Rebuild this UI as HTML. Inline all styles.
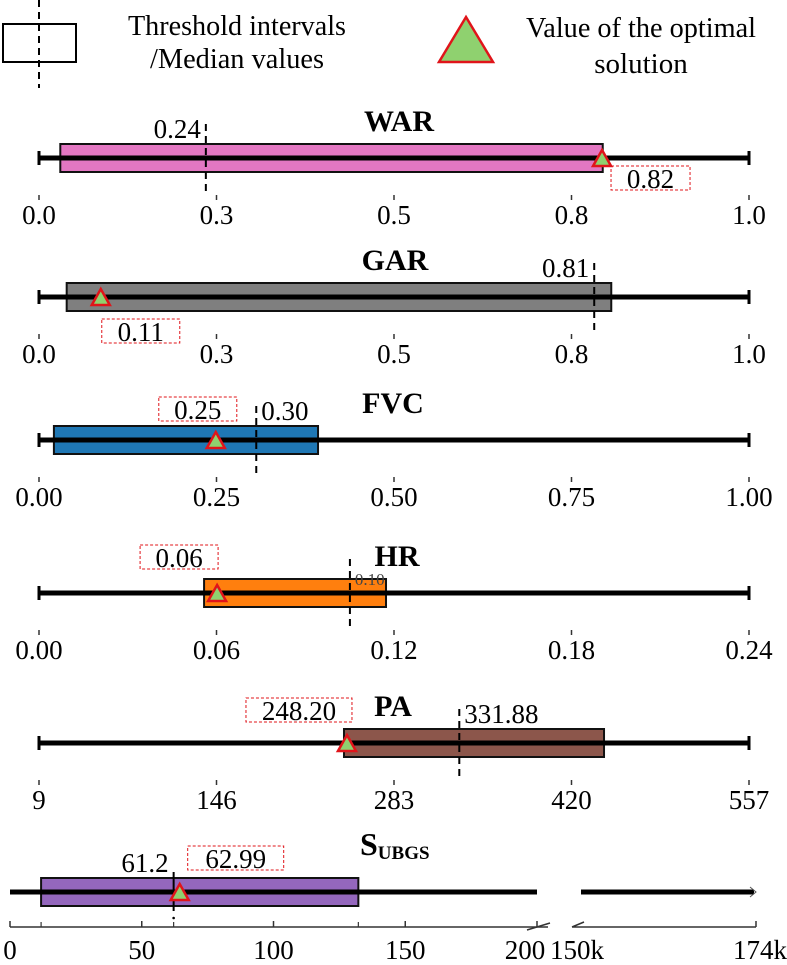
<!DOCTYPE html>
<html><head><meta charset="utf-8"><style>
html,body{margin:0;padding:0;background:#fff;}
svg{display:block;font-family:"Liberation Serif",serif;}
</style></head><body>
<svg id="chart" width="787" height="965" viewBox="0 0 787 965" xmlns="http://www.w3.org/2000/svg">
<g>
  <rect x="3" y="24" width="73" height="38" fill="none" stroke="#000" stroke-width="2"/>
  <line x1="39" y1="0" x2="39" y2="88" stroke="#000" stroke-width="2" stroke-dasharray="7,5"/>
  <text x="237" y="35" font-size="29" text-anchor="middle" textLength="218" lengthAdjust="spacingAndGlyphs">Threshold intervals</text>
  <text x="237" y="68" font-size="29" text-anchor="middle" textLength="174" lengthAdjust="spacingAndGlyphs">/Median values</text>
  <polygon points="466,17 493,62 439,62" fill="#8fd16f" stroke="#e0141a" stroke-width="2.5"/>
  <text x="641" y="37" font-size="29" text-anchor="middle" textLength="230" lengthAdjust="spacingAndGlyphs">Value of the optimal</text>
  <text x="641" y="73" font-size="29" text-anchor="middle">solution</text>
</g>
<g id="panels"></g>
</svg>
<script>
// ---- data ----
const names = ["WAR","GAR","FVC","HR","PA","SUBGS"];
const axisMin = [0,0,0,0,9,0];
const axisMax = [1,1,1,0.24,557,200];
const tickValues = [[0,0.25,0.5,0.75,1],[0,0.25,0.5,0.75,1],[0,0.25,0.5,0.75,1],[0,0.06,0.12,0.18,0.24],[9,146,283,420,557],[0,50,100,150,200]];
const tickLabels = [["0.0","0.3","0.5","0.8","1.0"],["0.0","0.3","0.5","0.8","1.0"],["0.00","0.25","0.50","0.75","1.00"],["0.00","0.06","0.12","0.18","0.24"],["9","146","283","420","557"],["0","50","100","150","200"]];
const boxLow = [0.030,0.039,0.021,0.0558,244.4,11.8];
const boxHigh = [0.794,0.806,0.393,0.1173,445.1,132.2];
const medians = [0.235,0.782,0.306,0.1051,333.4,62.1];
const optimals = [0.793,0.087,0.249,0.0602,246.7,64.4];
const medianLabels = ["0.24","0.81","0.30","0.10","331.88","61.2"];
const optimalLabels = ["0.82","0.11","0.25","0.06","248.20","62.99"];
const colors = ["#e377c2","#7f7f7f","#1f77b4","#ff7f0e","#8c564b","#9467bd"];

// ---- layout (not data) ----
const lineY = [158,297,440,593,743,892];
const x0 = [39,39,39,39,39,10];
const x1 = [749,749,749,749,749,537];
const titleX = [399,395,393,397,393,360];
const medSide = [-1,-1,1,1,1,-1];
const medSize = [27,27,27,17,27,27];
const optBox = [[9,8,79],[1,22,78],[-57,-43,78],[-77,-48,78],[-101,-45,106],[8,-46,96]];

const NS="http://www.w3.org/2000/svg";
const root=document.getElementById('panels');
function mk(tag,attrs,parent){const e=document.createElementNS(NS,tag);for(const k in attrs)e.setAttribute(k,attrs[k]);(parent||root).appendChild(e);return e;}

names.forEach((nm,i)=>{
  const sx=v=>x0[i]+(v-axisMin[i])/(axisMax[i]-axisMin[i])*(x1[i]-x0[i]);
  const y=lineY[i];
  const g=mk('g',{});
  
  
  if(nm==="SUBGS"){
    const t=mk('text',{x:titleX[i],y:y-37,'font-size':32,'font-weight':'bold'},g);
    
    
    t.textContent="S";
    const ts=mk('tspan',{'font-size':19,dy:4},t);ts.textContent="UBGS";
  } else {
    const t=mk('text',{x:titleX[i],y:y-27,'font-size':30,'font-weight':'bold','text-anchor':'middle'},g);
    
    
    t.textContent=nm;
  }
  const b=mk('rect',{x:sx(boxLow[i]),y:y-14,width:sx(boxHigh[i])-sx(boxLow[i]),height:28,fill:colors[i],stroke:'#111','stroke-width':2},g);
  
  
  const ln=mk('line',{x1:x0[i],y1:y,x2:x1[i],y2:y,stroke:'#000','stroke-width':5},g);
  
  
  if(nm!=="SUBGS"){
    [x0[i],x1[i]].forEach(xx=>{const c=mk('line',{x1:xx,y1:y-7,x2:xx,y2:y+7,stroke:'#000','stroke-width':3},g);
      
      });
  }
  const mx=sx(medians[i]);
  const ml = nm==="SUBGS"
    ? mk('line',{x1:mx,y1:y-20,x2:mx,y2:y+19,stroke:'#000','stroke-width':2},g)
    : mk('line',{x1:mx,y1:y-34,x2:mx,y2:y+35,stroke:'#000','stroke-width':2,'stroke-dasharray':'7,5'},g);
  
  
  const mt=mk('text',{x:mx+medSide[i]*5,y:y-(medSize[i]<20?8:20),'font-size':medSize[i],'text-anchor':medSide[i]<0?'end':'start',fill:medSize[i]<20?'#444':'#000'},g);
  
  
  mt.textContent=medianLabels[i];
  const ox=sx(optimals[i]);
  const tri=mk('polygon',{points:`${ox},${y-8} ${ox+9},${y+8} ${ox-9},${y+8}`,fill:'#8fd16f',stroke:'#e0141a','stroke-width':2.5},g);
  
  
  const ob=optBox[i];
  const r=mk('rect',{x:ox+ob[0],y:y+ob[1],width:ob[2],height:24,fill:'none',stroke:'#e0141a','stroke-width':1,'stroke-dasharray':'3,2'},g);
  
  
  const ot=mk('text',{x:ox+ob[0]+ob[2]/2,y:y+ob[1]+22,'font-size':27,'text-anchor':'middle'},g);
  
  
  ot.textContent=optimalLabels[i];
  const ty = nm==="SUBGS"? 927 : y+37;
  const ly = nm==="SUBGS"? 950 : y+66;
  if(nm==="SUBGS"){
    const ax=mk('polyline',{points:`${x0[i]},${ty} 548,${ty}`,fill:'none',stroke:'#333','stroke-width':1.5},g);
    
    
    mk('path',{d:`M527 ${ty+3} L550 ${ty-4}`,stroke:'#333','stroke-width':1.5,fill:'none'},g);
    mk('path',{d:`M572 ${ty} L756 ${ty} M572 ${ty} L584 ${ty-5}`,stroke:'#333','stroke-width':1.5,fill:'none'},g);
    mk('line',{x1:756,y1:ty,x2:756,y2:ty-6,stroke:'#333','stroke-width':1.5},g);
    [sx(boxLow[i]),sx(boxHigh[i]),mx].forEach(xx=>mk('line',{x1:xx,y1:ty,x2:xx,y2:ty-5,stroke:'#333','stroke-width':1.2},g));
    mk('circle',{cx:mx,cy:y+26,r:1.3,fill:'#000'},g);
    const seg=mk('line',{x1:581,y1:y,x2:754,y2:y,stroke:'#000','stroke-width':5},g);
    
    
    mk('path',{d:`M750 ${y-5} L756 ${y} L750 ${y+5}`,stroke:'#555','stroke-width':1,fill:'none'},g);
    [["150k",577],["174k",760]].forEach(([s,xx])=>{const t=mk('text',{x:xx,y:ly+9,'font-size':27,'text-anchor':'middle'},g);
      
      
      t.textContent=s;});
  }
  tickValues[i].forEach((v,k)=>{
    const xx=sx(v);
    const tk=mk('line',{x1:xx,y1:ty,x2:xx,y2:ty-(nm==="SUBGS"?6:-5),stroke:'#333','stroke-width':1.5},g);
    
    
    const t=mk('text',{x:(nm==="SUBGS"&&k===4)?xx-12:xx,y:nm==="SUBGS"?ly+9:ly,'font-size':27,'text-anchor':'middle'},g);
    
    
    t.textContent=tickLabels[i][k];
  });
});
</script>
</body></html>
